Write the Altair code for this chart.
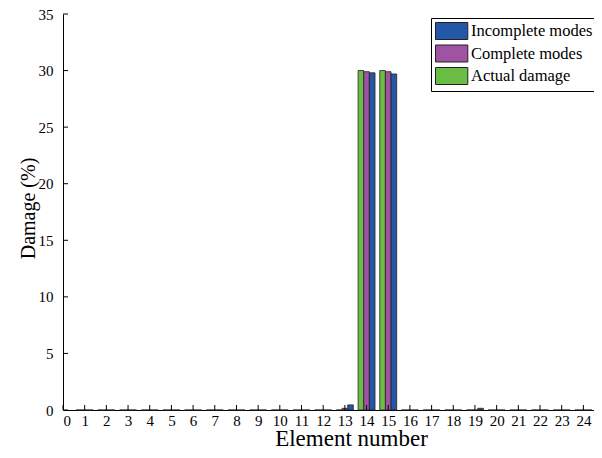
import altair as alt
import pandas as pd

# ---- data ----
elements = [1, 2, 3, 4, 5, 6, 7, 8, 9, 10, 11, 12, 13, 14, 15, 16, 17, 18, 19, 20, 21, 22, 23, 24]
incomplete = [0, 0, 0, 0, 0, 0, 0, 0, 0, 0, 0, 0, 0.45, 29.8, 29.7, 0, 0, 0, 0.15, 0, 0, 0, 0, 0]
complete = [0, 0, 0, 0, 0, 0, 0, 0, 0, 0, 0, 0, 0.15, 29.9, 29.9, 0, 0, 0, 0, 0, 0, 0, 0, 0]
actual = [0, 0, 0, 0, 0, 0, 0, 0, 0, 0, 0, 0, 0, 30, 30, 0, 0, 0, 0, 0, 0, 0, 0, 0]

legend_order = ["Incomplete modes", "Complete modes", "Actual damage"]
colors = ["#2457a6", "#a052a3", "#6cbd45"]
bar_order = ["Actual damage", "Complete modes", "Incomplete modes"]  # left -> right in group
x_ticks = list(range(0, 25))
y_ticks = [0, 5, 10, 15, 20, 25, 30, 35]

series_values = {"Incomplete modes": incomplete, "Complete modes": complete, "Actual damage": actual}
rows = []
for name in bar_order:
    for e, v in zip(elements, series_values[name]):
        rows.append({"element": e, "series": name, "value": v, "slot": bar_order.index(name)})
df = pd.DataFrame(rows)

W, H = 531, 396
FONT = "Liberation Serif"
xscale = alt.Scale(domain=[0, 24.49], nice=False, zero=False)
yscale = alt.Scale(domain=[0, 35], nice=False)
xaxis = alt.Axis(values=x_ticks, title="Element number", ticks=False,
                 labelPadding=3, titleFontSize=23, titlePadding=0,
                 titleX=288, titleY=35, titleBaseline="alphabetic")
yaxis = alt.Axis(values=y_ticks, title="Damage (%)", ticks=False,
                 labelPadding=10, titleFontSize=20, titlePadding=0,
                 titleX=-25, titleY=194, titleBaseline="bottom")

bars = alt.Chart(df).transform_calculate(
    x0="datum.element + (datum.slot - 1) * 0.26 - 0.13",
    x1="datum.element + (datum.slot - 1) * 0.26 + 0.13",
).mark_rect(stroke="#222222", strokeWidth=0.8).encode(
    x=alt.X("x0:Q", scale=xscale, axis=xaxis),
    x2="x1:Q",
    y=alt.Y("value:Q", scale=yscale, axis=yaxis),
    y2=alt.datum(0),
    color=alt.Color("series:N", scale=alt.Scale(domain=legend_order, range=colors),
                    legend=alt.Legend(title=None, orient="none", legendX=368, legendY=4,
                                      symbolType="M-1,-1H2.8V1H-1Z", symbolSize=289,
                                      symbolStrokeColor="#222222", symbolStrokeWidth=1,
                                      symbolOpacity=1,
                                      labelFont=FONT, labelFontSize=16.5, labelColor="black",
                                      labelOffset=18, strokeColor="black", fillColor="white",
                                      padding=4, rowPadding=0.5)),
)

xt = alt.Chart(pd.DataFrame({"t": x_ticks})).mark_rule(color="black", strokeWidth=1).encode(
    x=alt.X("t:Q", scale=xscale, axis=xaxis), y=alt.value(H), y2=alt.value(H - 5))
yt = alt.Chart(pd.DataFrame({"t": y_ticks})).mark_rule(color="black", strokeWidth=1).encode(
    y=alt.Y("t:Q", scale=yscale, axis=yaxis), x=alt.value(0), x2=alt.value(5))

chart = alt.layer(bars, xt, yt).properties(
    width=W, height=H,
    autosize=alt.AutoSizeParams(type="none"),
    padding={"left": 55, "top": 6, "right": 0, "bottom": 40},
).configure_view(stroke=None).configure_axis(
    grid=False, domainColor="black", domainWidth=1,
    labelFont=FONT, labelFontSize=15, labelColor="black",
    titleFont=FONT, titleColor="black", titleFontWeight="normal",
)

chart.save("out.html", embed_options={"renderer": "svg", "actions": False})
